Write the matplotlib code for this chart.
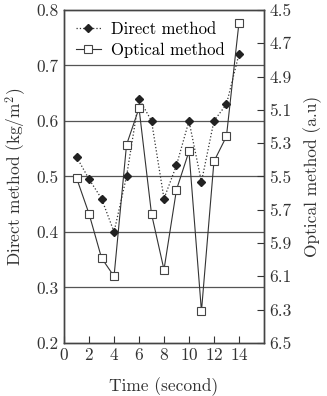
import matplotlib
matplotlib.use('Agg')
import matplotlib.pyplot as plt

plt.rcParams['font.family'] = ['cmr10', 'DejaVu Serif']
plt.rcParams['mathtext.fontset'] = 'cm'
plt.rcParams['axes.formatter.use_mathtext'] = True

time = [1, 2, 3, 4, 5, 6, 7, 8, 9, 10, 11, 12, 13, 14]
direct = [0.535, 0.495, 0.46, 0.40, 0.50, 0.64, 0.60, 0.46, 0.52, 0.60, 0.49, 0.60, 0.63, 0.72]
optical = [5.51, 5.725, 5.99, 6.10, 5.31, 5.09, 5.725, 6.06, 5.58, 5.35, 6.31, 5.41, 5.26, 4.58]

c = '#333333'
fig = plt.figure(figsize=(3.27, 3.96), dpi=100)
ax = fig.add_axes([0.196, 0.134, 0.611, 0.841])
ax2 = ax.twinx()

for y in [0.3, 0.4, 0.5, 0.6, 0.7]:
    ax.axhline(y, color='#555555', lw=0.9, zorder=0)

l1, = ax.plot(time, direct, ls=':', color=c, lw=0.9, marker='D', ms=4.5,
              mfc='#222222', mec='#222222', label='Direct method')
l2, = ax2.plot(time, optical, ls='-', color=c, lw=0.8, marker='s', ms=6,
               mfc='white', mec='#444444', mew=0.8, label='Optical method')

ax.set_xlim(0, 16)
ax.set_ylim(0.2, 0.8)
ax.set_xticks([0, 2, 4, 6, 8, 10, 12, 14])
ax.set_yticks([0.2, 0.3, 0.4, 0.5, 0.6, 0.7, 0.8])
ax.set_yticklabels(['0.2', '0.3', '0.4', '0.5', '0.6', '0.7', '0.8'])
ax.tick_params(axis='x', direction='in', length=5, labelsize=12.5, colors=c, pad=3)
ax.tick_params(axis='y', length=0, labelsize=12.5, colors=c, pad=4)

ax2.set_ylim(6.5, 4.5)
ax2.set_yticks([4.5, 4.7, 4.9, 5.1, 5.3, 5.5, 5.7, 5.9, 6.1, 6.3, 6.5])
ax2.set_yticklabels(['4.5', '4.7', '4.9', '5.1', '5.3', '5.5', '5.7', '5.9', '6.1', '6.3', '6.5'])
ax2.tick_params(axis='y', direction='in', length=5, labelsize=12.5, colors=c, pad=4)

for a in (ax, ax2):
    for s in a.spines.values():
        s.set_color('#444444')
        s.set_linewidth(1.0)

ax.set_xlabel('Time (second)', fontsize=12.5, color=c, labelpad=10)
ax.set_ylabel('Direct method (kg/m$^2$)', fontsize=12.5, color=c, labelpad=6)
ax2.set_ylabel('Optical method (a.u)', fontsize=12.5, color=c, labelpad=8)

ax.legend(handles=[l1, l2], loc='upper left', frameon=False, fontsize=12,
          handlelength=1.5, handletextpad=0.6, borderaxespad=0.3, labelspacing=0.3,
          bbox_to_anchor=(0.0, 1.0))

fig.savefig('out.png', dpi=100)
